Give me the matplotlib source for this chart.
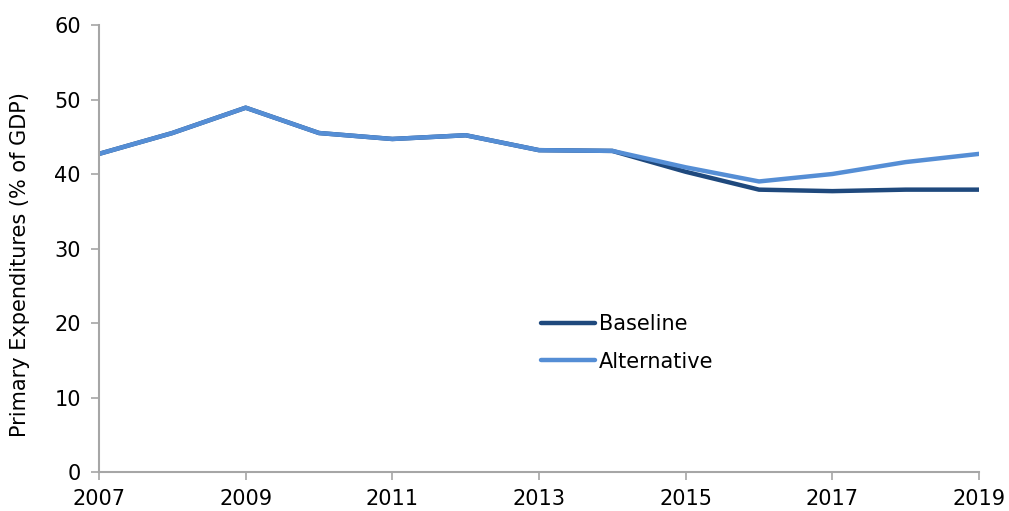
import matplotlib
matplotlib.use("Agg")
import matplotlib.pyplot as plt

# ── Data ────────────────────────────────────────────────────────────────
years = list(range(2007, 2020))
baseline = [42.7, 45.5, 48.9, 45.5, 44.7, 45.2, 43.2, 43.1, 40.3, 37.9, 37.7, 37.9, 37.9]
alternative = [42.7, 45.5, 48.9, 45.5, 44.7, 45.2, 43.2, 43.1, 40.9, 39.0, 40.0, 41.6, 42.7]
x_ticks = [2007, 2009, 2011, 2013, 2015, 2017, 2019]
y_ticks = [0, 10, 20, 30, 40, 50, 60]

plt.rcParams["font.family"] = ["DejaVu Sans"]
FS = 15

fig = plt.figure(figsize=(10.09, 5.11), dpi=100)
ax = fig.add_axes([99 / 1009, 1 - 472 / 511, 880 / 1009, 447 / 511])

ax.plot(years, baseline, color="#1F497D", linewidth=3.2, label="Baseline",
        solid_capstyle="round")
ax.plot(years, alternative, color="#558ED5", linewidth=3.2, label="Alternative",
        solid_capstyle="round")

ax.set_xlim(2007, 2019)
ax.set_ylim(0, 60)
ax.set_xticks(x_ticks)
ax.set_yticks(y_ticks)
ax.tick_params(axis="both", labelsize=FS, color="#A6A6A6", length=6, width=1.2,
               direction="out")
ax.tick_params(axis="x", pad=6)
ax.tick_params(axis="y", pad=7)
ax.set_ylabel("Primary Expenditures (% of GDP)", fontsize=FS)
ax.yaxis.set_label_coords(-0.078, 0.463)

for side in ("top", "right"):
    ax.spines[side].set_visible(False)
for side in ("left", "bottom"):
    ax.spines[side].set_color("#A6A6A6")
    ax.spines[side].set_linewidth(1.5)

ax.legend(loc="center", bbox_to_anchor=(0.6, 0.289), frameon=False, fontsize=FS,
          handlelength=2.6, handletextpad=0.2, labelspacing=0.85)

fig.savefig("out.png", dpi=100)
